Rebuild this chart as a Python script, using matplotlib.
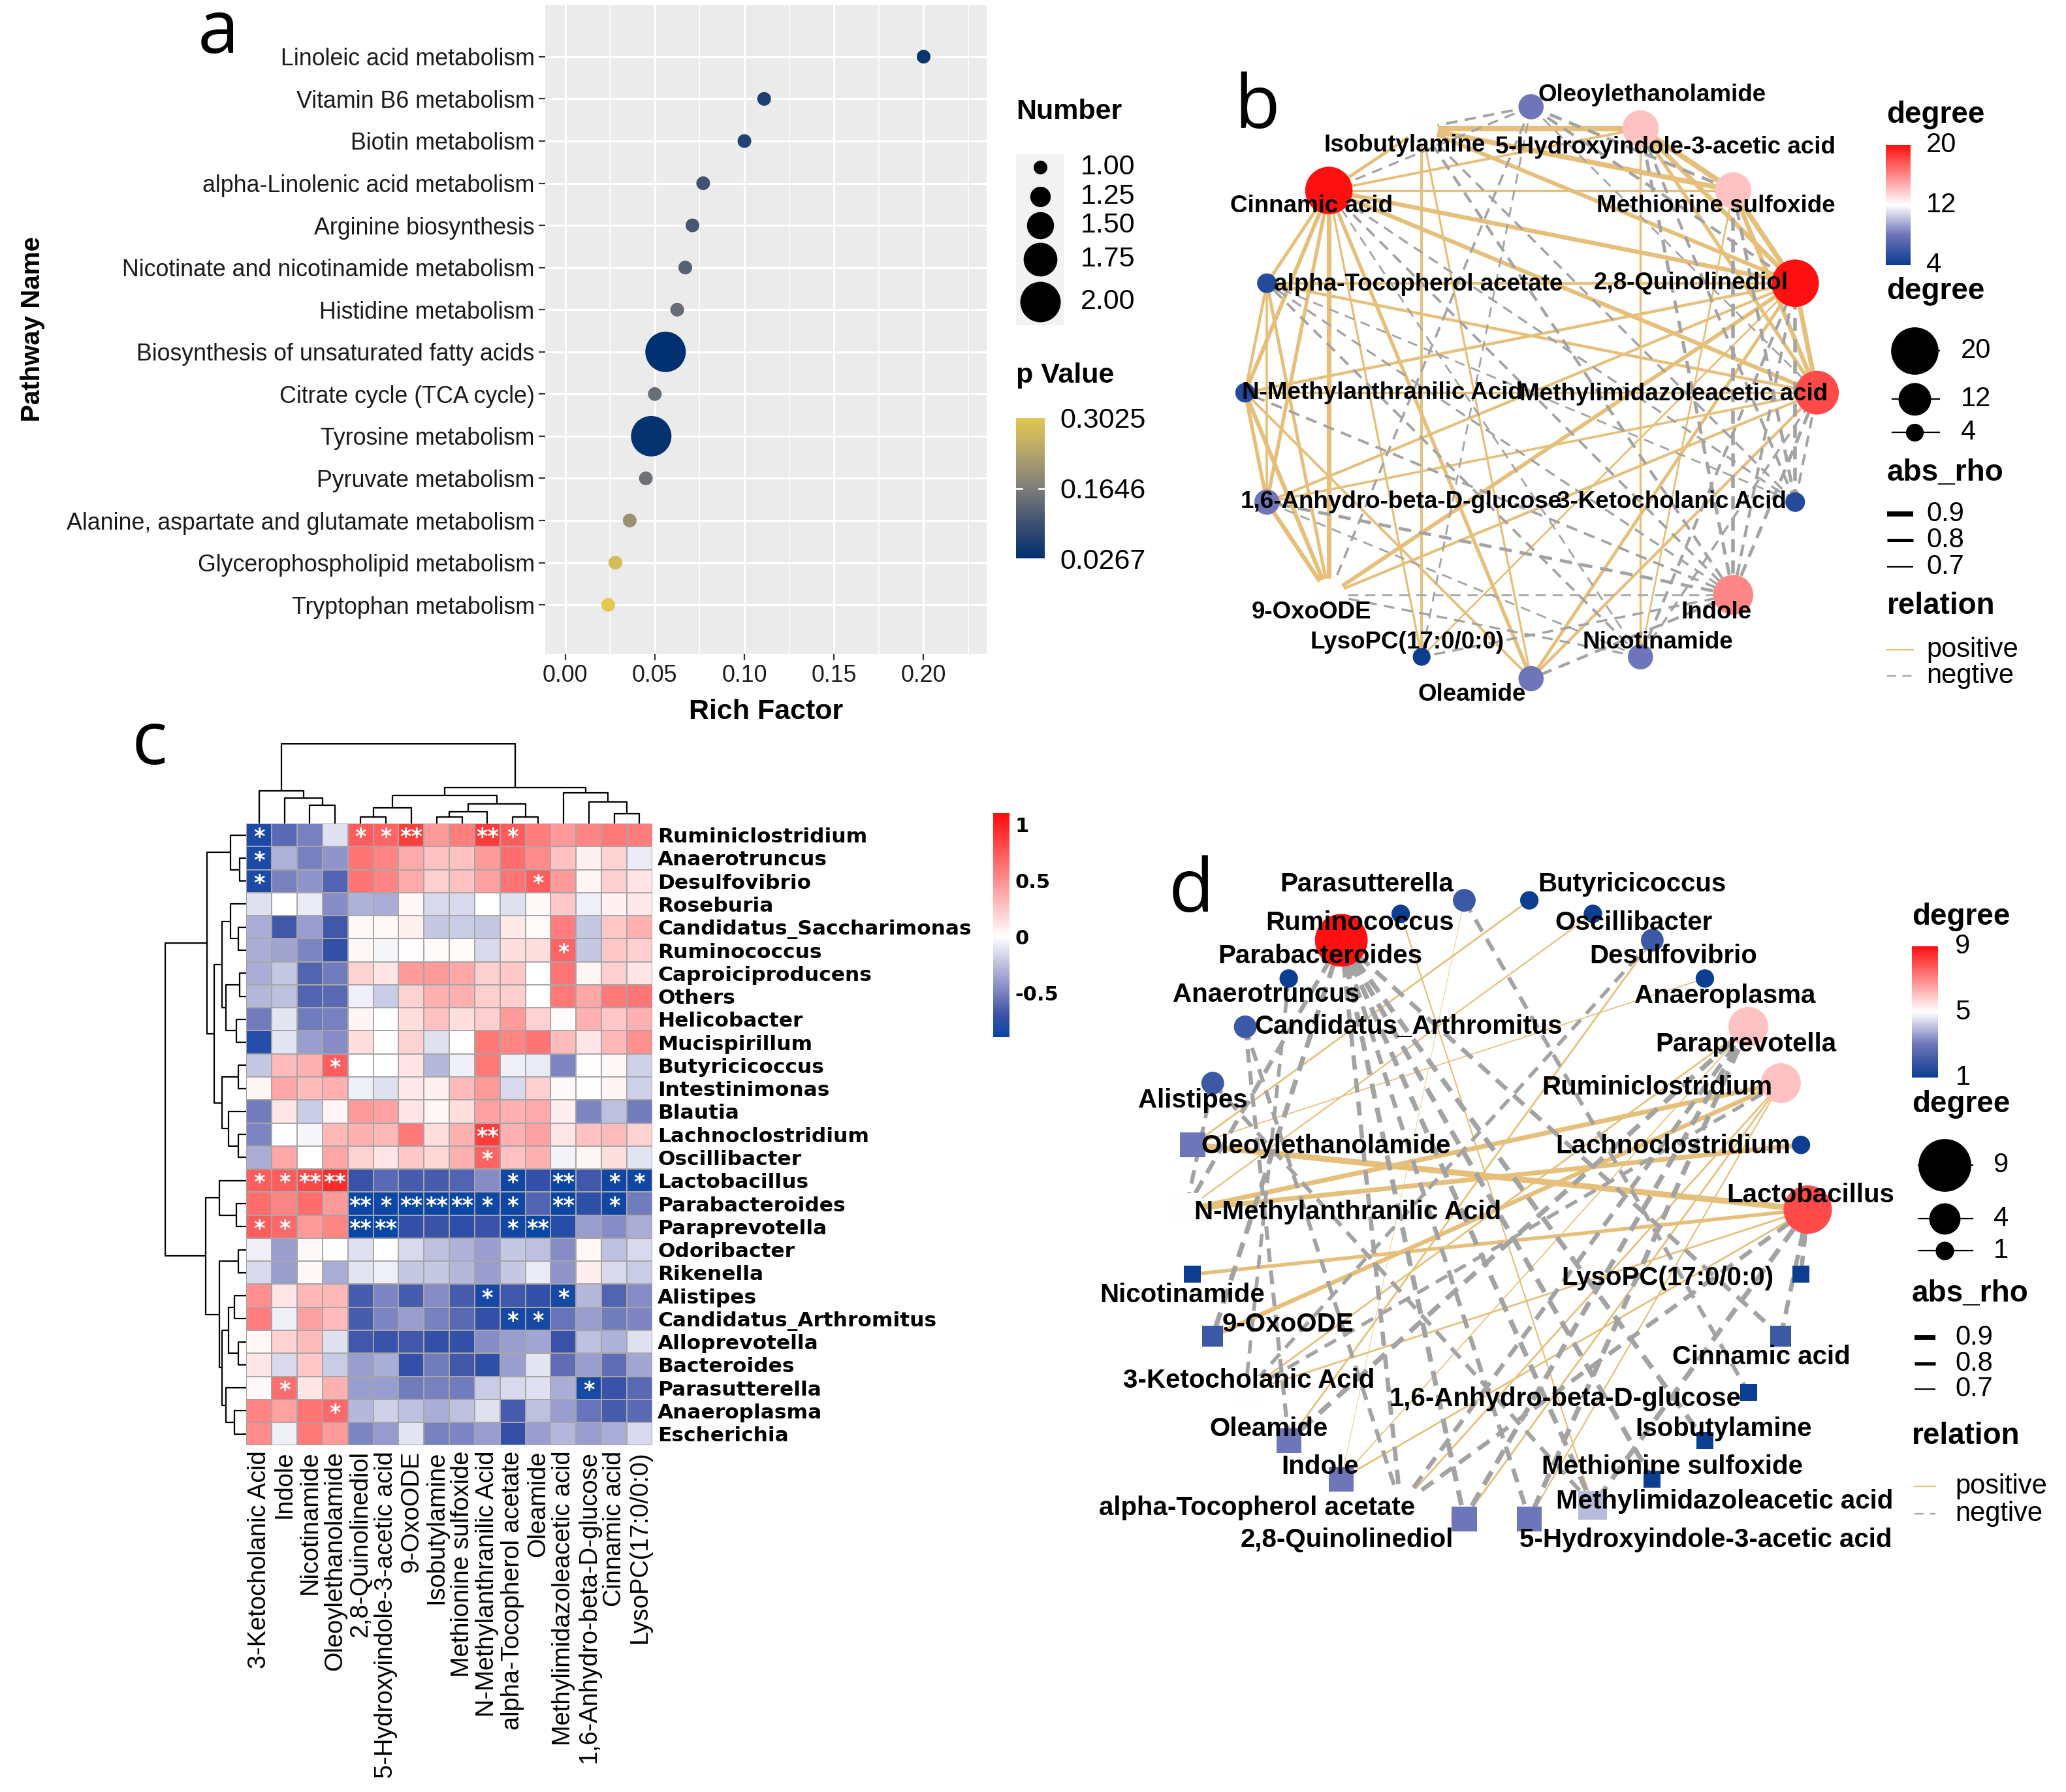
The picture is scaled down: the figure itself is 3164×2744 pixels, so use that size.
import numpy as np
import matplotlib
matplotlib.use("Agg")
import matplotlib.pyplot as plt
from matplotlib import font_manager
from matplotlib.colors import LinearSegmentedColormap, Normalize
from matplotlib.cm import ScalarMappable
from matplotlib.patches import Rectangle

plt.rcParams['lines.scale_dashes'] = False

# ---------------- panel a : enrichment ----------------
pathways = ['Linoleic acid metabolism', 'Vitamin B6 metabolism', 'Biotin metabolism',
            'alpha-Linolenic acid metabolism', 'Arginine biosynthesis',
            'Nicotinate and nicotinamide metabolism', 'Histidine metabolism',
            'Biosynthesis of unsaturated fatty acids', 'Citrate cycle (TCA cycle)',
            'Tyrosine metabolism', 'Pyruvate metabolism',
            'Alanine, aspartate and glutamate metabolism',
            'Glycerophospholipid metabolism', 'Tryptophan metabolism']
rich_factor = [0.200, 0.111, 0.100, 0.077, 0.071, 0.067, 0.0625, 0.056, 0.050,
               0.048, 0.045, 0.036, 0.028, 0.024]
p_value = [0.036, 0.058, 0.065, 0.100, 0.106, 0.122, 0.138, 0.0267, 0.141,
           0.030, 0.148, 0.201, 0.280, 0.3025]
number = [1, 1, 1, 1, 1, 1, 1, 2, 1, 2, 1, 1, 1, 1]
number_breaks = [1.00, 1.25, 1.50, 1.75, 2.00]
p_breaks = [0.0267, 0.1646, 0.3025]

# ---------------- panel b : metabolite network ----------------
b_nodes = ['Oleoylethanolamide', '5-Hydroxyindole-3-acetic acid', 'Methionine sulfoxide',
           '2,8-Quinolinediol', 'Methylimidazoleacetic acid', '3-Ketocholanic Acid',
           'Indole', 'Nicotinamide', 'Oleamide', 'LysoPC(17:0/0:0)', '9-OxoODE',
           '1,6-Anhydro-beta-D-glucose', 'N-Methylanthranilic Acid',
           'alpha-Tocopherol acetate', 'Cinnamic acid', 'Isobutylamine']
b_degree = [8, 14, 14, 20, 18, 5, 16, 8, 8, 4, 12, 8, 5, 5, 20, 12]
# (node, node, rho) - indices into b_nodes
b_edges = [
    (15, 1, 0.92), (15, 2, 0.90), (15, 3, 0.84), (15, 14, 0.80), (1, 2, 0.92),
    (1, 3, 0.88), (2, 3, 0.90), (3, 4, 0.88), (2, 4, 0.86), (1, 4, 0.82),
    (14, 1, 0.76), (14, 2, 0.74), (14, 3, 0.86), (14, 4, 0.85), (14, 13, 0.80),
    (14, 12, 0.84), (14, 11, 0.82), (14, 10, 0.88), (14, 8, 0.82), (14, 9, 0.74),
    (13, 12, 0.78), (13, 11, 0.75), (13, 10, 0.80), (13, 3, 0.76), (13, 4, 0.78),
    (12, 11, 0.82), (12, 10, 0.85), (12, 3, 0.78), (12, 4, 0.74),
    (11, 10, 0.86), (11, 3, 0.77), (11, 4, 0.75), (10, 3, 0.84), (10, 4, 0.77),
    (8, 3, 0.80), (8, 4, 0.78), (8, 12, 0.76), (8, 15, 0.74), (9, 15, 0.76),
    (9, 3, 0.72), (7, 1, 0.74), (7, 2, 0.72),
    (6, 1, -0.80), (6, 2, -0.82), (6, 3, -0.78), (6, 4, -0.80), (6, 14, -0.76),
    (6, 15, -0.78), (6, 13, -0.74), (6, 12, -0.76), (6, 11, -0.80), (6, 10, -0.72),
    (6, 9, -0.75), (6, 8, -0.78), (5, 1, -0.78), (5, 2, -0.80), (5, 3, -0.82),
    (5, 4, -0.76), (5, 14, -0.74), (5, 13, -0.72), (5, 15, -0.75), (0, 14, -0.74),
    (0, 15, -0.76), (0, 2, -0.80), (0, 3, -0.78), (0, 4, -0.72), (0, 10, -0.75),
    (0, 9, -0.72), (7, 14, -0.72), (7, 3, -0.78), (7, 4, -0.75), (7, 10, -0.74),
    (7, 11, -0.72), (7, 13, -0.76),
]

# ---------------- panel c : correlation heatmap ----------------
metabolites = ['3-Ketocholanic Acid', 'Indole', 'Nicotinamide', 'Oleoylethanolamide',
               '2,8-Quinolinediol', '5-Hydroxyindole-3-acetic acid', '9-OxoODE',
               'Isobutylamine', 'Methionine sulfoxide', 'N-Methylanthranilic Acid',
               'alpha-Tocopherol acetate', 'Oleamide', 'Methylimidazoleacetic acid',
               '1,6-Anhydro-beta-D-glucose', 'Cinnamic acid', 'LysoPC(17:0/0:0)']
genera = ['Ruminiclostridium', 'Anaerotruncus', 'Desulfovibrio', 'Roseburia',
          'Candidatus_Saccharimonas', 'Ruminococcus', 'Caproiciproducens', 'Others',
          'Helicobacter', 'Mucispirillum', 'Butyricicoccus', 'Intestinimonas', 'Blautia',
          'Lachnoclostridium', 'Oscillibacter', 'Lactobacillus', 'Parabacteroides',
          'Paraprevotella', 'Odoribacter', 'Rikenella', 'Alistipes',
          'Candidatus_Arthromitus', 'Alloprevotella', 'Bacteroides', 'Parasutterella',
          'Anaeroplasma', 'Escherichia']
rho = np.array([
    [-0.82, -0.60, -0.50, -0.12, 0.72, 0.70, 0.86, 0.45, 0.58, 0.88, 0.72, 0.58, 0.45, 0.55, 0.60, 0.58],
    [-0.82, -0.30, -0.50, -0.42, 0.62, 0.55, 0.38, 0.28, 0.28, 0.45, 0.65, 0.52, 0.28, 0.06, 0.20, -0.08],
    [-0.82, -0.50, -0.42, -0.62, 0.62, 0.55, 0.38, 0.22, 0.27, 0.42, 0.62, 0.72, 0.45, 0.05, 0.22, 0.12],
    [-0.12, 0.00, -0.08, -0.45, -0.30, -0.32, 0.03, -0.15, -0.15, 0.00, -0.12, 0.03, 0.25, -0.06, 0.06, 0.10],
    [-0.32, -0.68, -0.38, -0.68, 0.03, 0.03, 0.07, -0.22, -0.20, -0.22, 0.10, 0.02, 0.58, -0.22, 0.25, 0.35],
    [-0.32, -0.36, -0.48, -0.72, 0.03, -0.03, 0.01, 0.02, 0.02, -0.15, 0.15, 0.15, 0.70, -0.22, 0.25, 0.22],
    [-0.32, -0.22, -0.62, -0.52, 0.20, 0.12, 0.45, 0.45, 0.40, 0.22, 0.25, 0.00, 0.62, 0.05, 0.22, 0.12],
    [-0.28, -0.25, -0.62, -0.60, -0.06, -0.20, 0.20, 0.35, 0.35, 0.22, 0.22, 0.00, 0.60, 0.40, 0.60, 0.62],
    [-0.52, -0.10, -0.52, -0.50, 0.05, 0.00, 0.15, 0.28, 0.15, 0.22, 0.45, 0.20, 0.02, 0.35, 0.25, 0.35],
    [-0.78, -0.10, -0.38, -0.45, 0.15, 0.00, 0.20, -0.12, 0.00, 0.60, 0.55, 0.62, 0.30, 0.12, 0.32, 0.50],
    [-0.22, 0.30, 0.35, 0.72, 0.00, 0.00, 0.12, -0.28, -0.06, 0.60, -0.06, -0.08, -0.48, 0.01, 0.03, -0.18],
    [0.05, 0.40, 0.30, 0.35, -0.06, -0.12, 0.10, 0.06, 0.30, 0.45, -0.15, 0.22, 0.03, 0.01, 0.05, -0.18],
    [-0.52, 0.12, -0.20, 0.05, 0.45, 0.42, 0.12, 0.04, 0.15, 0.42, 0.35, 0.38, 0.08, -0.48, -0.25, -0.52],
    [-0.48, 0.00, -0.03, 0.32, 0.35, 0.32, 0.60, 0.15, 0.35, 0.88, 0.35, 0.42, 0.12, 0.28, 0.30, 0.20],
    [-0.32, 0.40, 0.00, 0.40, 0.20, 0.12, 0.25, 0.18, 0.35, 0.70, 0.28, 0.35, -0.05, 0.05, 0.15, -0.10],
    [0.72, 0.72, 0.82, 0.95, -0.70, -0.60, -0.65, -0.65, -0.62, -0.45, -0.86, -0.72, -0.89, -0.68, -0.86, -0.86],
    [0.65, 0.55, 0.65, 0.45, -0.89, -0.86, -0.89, -0.89, -0.89, -0.86, -0.86, -0.62, -0.89, -0.75, -0.86, -0.52],
    [0.72, 0.68, 0.45, 0.55, -0.89, -0.89, -0.72, -0.70, -0.75, -0.70, -0.86, -0.89, -0.78, -0.38, -0.45, -0.32],
    [-0.06, -0.38, 0.03, 0.00, -0.12, 0.00, -0.15, -0.25, -0.30, -0.38, -0.22, -0.25, -0.45, 0.04, -0.25, -0.15],
    [-0.15, -0.38, 0.03, -0.32, -0.10, -0.06, -0.22, -0.22, -0.28, -0.38, -0.22, -0.08, -0.42, 0.08, -0.15, -0.20],
    [0.50, 0.12, 0.32, 0.32, -0.65, -0.48, -0.65, -0.45, -0.65, -0.84, -0.68, -0.72, -0.84, -0.28, -0.62, -0.45],
    [0.58, -0.06, 0.42, 0.30, -0.65, -0.48, -0.38, -0.50, -0.60, -0.72, -0.84, -0.84, -0.55, -0.38, -0.52, -0.48],
    [0.04, 0.20, 0.30, -0.12, -0.68, -0.70, -0.68, -0.72, -0.72, -0.45, -0.38, -0.35, -0.70, -0.25, -0.30, -0.12],
    [0.12, -0.15, 0.25, -0.20, -0.38, -0.32, -0.72, -0.52, -0.68, -0.75, -0.38, -0.10, -0.58, -0.38, -0.58, -0.35],
    [0.03, 0.65, 0.12, 0.35, -0.38, -0.38, -0.52, -0.50, -0.52, -0.20, -0.15, -0.12, -0.32, -0.84, -0.70, -0.60],
    [0.55, 0.42, 0.62, 0.68, -0.28, -0.18, -0.25, -0.32, -0.25, -0.12, -0.65, -0.25, -0.38, -0.55, -0.65, -0.60],
    [0.52, -0.06, 0.60, 0.45, -0.48, -0.40, -0.10, -0.50, -0.48, -0.38, -0.72, -0.38, -0.28, -0.38, -0.32, -0.15],
])
# significance marks per cell: '.' none, '1' = *, '2' = **
signif = ['1...112..21.....', '1...............', '1..........1....', '................',
          '................', '............1...', '................', '................',
          '................', '................', '...1............', '................',
          '................', '.........2......', '.........1......', '1122......1.2.11',
          '....2122211.2.1.', '11..22....12....', '................', '................',
          '.........1..1...', '..........11....', '................', '................',
          '.1...........1..', '...1............', '................']
# dendrograms: leaves are column/row indices, nodes are (left, right, height)
col_tree = ((0, (1, (2, 3, 0.23), 0.32), 0.41),
            ((((4, 5, 0.08), 6, 0.20), (((7, 8, 0.08), 9, 0.15), (10, 11, 0.08), 0.25), 0.35),
             (12, (13, (14, 15, 0.12), 0.27), 0.39), 0.45), 1.0)
row_tree = (((0, (1, 2, 0.08), 0.20),
             (((3, (4, 5, 0.10), 0.20), ((6, 7, 0.08), (8, 9, 0.12), 0.25), 0.30),
              ((10, 11, 0.10), (12, (13, 14, 0.10), 0.22), 0.30), 0.40), 0.49),
            ((15, (16, 17, 0.12), 0.33),
             ((18, 19, 0.10), (((20, 21, 0.15), (22, 23, 0.10), 0.22),
                               (24, (25, 26, 0.15), 0.25), 0.30), 0.33), 0.50), 1.0)

# ---------------- panel d : genus-metabolite network ----------------
d_nodes = ['Lactobacillus', 'Lachnoclostridium', 'Ruminiclostridium', 'Paraprevotella',
           'Anaeroplasma', 'Desulfovibrio', 'Oscillibacter', 'Butyricicoccus',
           'Parasutterella', 'Ruminococcus', 'Parabacteroides', 'Anaerotruncus',
           'Candidatus_Arthromitus', 'Alistipes', 'Oleoylethanolamide',
           'N-Methylanthranilic Acid', 'Nicotinamide', '9-OxoODE', '3-Ketocholanic Acid',
           'Oleamide', 'Indole', 'alpha-Tocopherol acetate', '2,8-Quinolinediol',
           '5-Hydroxyindole-3-acetic acid', 'Methylimidazoleacetic acid',
           'Methionine sulfoxide', 'Isobutylamine', '1,6-Anhydro-beta-D-glucose',
           'Cinnamic acid', 'LysoPC(17:0/0:0)']

# ---------------- label placement (offsets from node, in layout units) ----------------
b_lab_off = [(92, -9), (19, 14), (-13, 12), (-79, 0), (-109, 1), (-94, 0), (-13, 13),
             (13, -11), (-45, 12), (-11, -11), (-13, 13), (102, 0), (104, 0), (115, 1),
             (-13, 12), (-13, 13)]
d_lab_off = [(2, -11), (-97, 1), (-94, 3), (-2, 13), (15, 13), (16, 12), (31, 7), (78, -12),
             (-74, -12), (-31, 7), (-16, 12), (-17, 12), (124, 0), (-15, 13), (101, 1),
             (123, 2), (-8, 16), (57, -9), (3, -9), (-15, -9), (-16, -9), (-109, 2),
             (-89, 16), (134, 16), (100, -3), (15, -9), (14, -9), (-139, 5), (-15, 16),
             (-101, 3)]

# ---------------- helpers ----------------
W, H = 1568, 1360              # layout grid (half-size reference)
PT = 3164 / W * 72 / 100       # one grid unit in points

fonts = {f.name for f in font_manager.fontManager.ttflist}
if 'Liberation Sans Narrow' in fonts:
    COND, kc = ['Liberation Sans Narrow', 'Liberation Sans'], 1.0
else:
    COND, kc = ['Liberation Sans'], 0.83
SANS = ['Liberation Sans', 'DejaVu Sans']
GOLD, GREY = '#e6c07a', '#a3a3a3'


def rect(x0, y0, x1, y1):
    return [x0 / W, 1 - y1 / H, (x1 - x0) / W, (y1 - y0) / H]


def edge_lw(r):
    return 1.6 + (abs(r) - 0.7) * 20


def edge_style(r):
    lw = edge_lw(r)
    if r > 0:
        return dict(color=GOLD, lw=lw, solid_capstyle='butt')
    return dict(color=GREY, lw=lw, dashes=(8 + 1.6 * lw, 6 + 0.8 * lw), dash_capstyle='butt')


fig = plt.figure(figsize=(31.64, 27.44), dpi=100)
ov = fig.add_axes([0, 0, 1, 1], zorder=5)
ov.set_xlim(0, W)
ov.set_ylim(H, 0)
ov.axis('off')

for lab, x, y in [('a', 150, 40), ('b', 937, 97), ('c', 100, 580), ('d', 887, 692)]:
    ov.text(x, y, lab, fontsize=82, family=['Open Sans', 'DejaVu Sans'], ha='left', va='baseline')

# ================= panel a =================
cmap_a = LinearSegmentedColormap.from_list(
    'pv', ['#00306f', '#3e5070', '#7e7d79', '#b3a46a', '#e3c852'])
norm_a = Normalize(min(p_breaks), max(p_breaks))


def size_a(n):
    return (10.4 + (np.asarray(n) - 1) * 20.3) * PT


ax_a = fig.add_axes(rect(414, 4, 749, 496))
ax_a.set_facecolor('#EBEBEB')
ypos = np.arange(len(pathways))[::-1] + 1
ax_a.scatter(rich_factor, ypos, s=size_a(number) ** 2, c=p_value, cmap=cmap_a,
             norm=norm_a, linewidths=0, zorder=3)
ax_a.set_xlim(-0.011, 0.2353)
ax_a.set_ylim(-0.155, 15.22)
ax_a.set_xticks([0, 0.05, 0.10, 0.15, 0.20])
ax_a.set_xticklabels(['0.00', '0.05', '0.10', '0.15', '0.20'])
ax_a.set_xticks([0.025, 0.075, 0.125, 0.175, 0.225], minor=True)
ax_a.set_yticks(ypos)
ax_a.set_yticklabels(pathways)
ax_a.grid(which='major', color='white', lw=2.2)
ax_a.grid(which='minor', axis='x', color='white', lw=1.1)
ax_a.set_axisbelow(True)
for s in ax_a.spines.values():
    s.set_visible(False)
ax_a.tick_params(which='major', length=7, width=1.6, color='#333333',
                 labelsize=31 * kc, labelcolor='#1a1a1a', pad=5)
ax_a.tick_params(which='minor', length=0)
for t in ax_a.get_xticklabels() + ax_a.get_yticklabels():
    t.set_family(COND)
ax_a.set_xlabel('Rich Factor', fontsize=31, fontweight='bold', family=SANS)
ax_a.xaxis.set_label_coords(0.5, -(540 - 496) / 492)
ax_a.xaxis.label.set_va('center')
ax_a.set_ylabel('Pathway Name', fontsize=29, fontweight='bold', family=SANS)
ax_a.yaxis.set_label_coords((25 - 414) / 335, 0.5)
ax_a.yaxis.label.set_va('center')

# legend a
ov.text(771, 85, 'Number', fontsize=31, fontweight='bold', family=SANS, va='center')
ov.add_patch(Rectangle((771, 117), 37, 130, fc='#F2F2F2', ec='none'))
for n, y in zip(number_breaks, [127, 149, 171, 197, 229]):
    ov.scatter([789.5], [y], s=size_a(n) ** 2, c='black', linewidths=0)
    ov.text(820, y, f'{n:.2f}', fontsize=31, family=SANS, va='center')
ov.text(771, 285, 'p Value', fontsize=31, fontweight='bold', family=SANS, va='center')
cax_a = fig.add_axes(rect(771, 317, 793, 424))
cb = fig.colorbar(ScalarMappable(norm=norm_a, cmap=cmap_a), cax=cax_a)
cb.outline.set_visible(False)
cb.set_ticks(p_breaks)
cb.set_ticklabels([f'{v:.4f}' for v in p_breaks])
cax_a.tick_params(length=0, labelsize=31, pad=17)
for t in cax_a.get_yticklabels():
    t.set_family(SANS)
tr = cax_a.get_yaxis_transform()
cax_a.plot([0, 0.2], [p_breaks[1]] * 2, transform=tr, color='white', lw=2)
cax_a.plot([0.8, 1], [p_breaks[1]] * 2, transform=tr, color='white', lw=2)


# ================= networks =================
def net_axes(x0, y0, x1, y1, cx, cy, R):
    ax = fig.add_axes(rect(x0, y0, x1, y1))
    ax.set_xlim((x0 - cx) / R, (x1 - cx) / R)
    ax.set_ylim((cy - y1) / R, (cy - y0) / R)
    ax.axis('off')
    return ax


def net_legend(x, y_t1, cb_y, cb_ticks, cmap, norm, y_t2, size_keys, size_ys, size_fn,
               dot_x, line_x, size_lab_x, y_t3, rho_ys, rho_x, y_t4, rel_ys, lab_x):
    kw_t = dict(fontsize=33, fontweight='bold', family=SANS, va='center')
    kw_l = dict(fontsize=30, family=SANS, va='center')
    ov.text(x, y_t1, 'degree', **kw_t)
    cax = fig.add_axes(rect(cb_y[0], cb_y[1], cb_y[2], cb_y[3]))
    c = fig.colorbar(ScalarMappable(norm=norm, cmap=cmap), cax=cax)
    c.outline.set_visible(False)
    c.set_ticks([])
    for v in cb_ticks:
        yy = cb_y[3] - (v - norm.vmin) / (norm.vmax - norm.vmin) * (cb_y[3] - cb_y[1])
        ov.text(lab_x, yy, str(v), **kw_l)
    ov.text(x, y_t2, 'degree', **kw_t)
    for v, yy in zip(size_keys, size_ys):
        ov.plot(line_x, [yy, yy], color='black', lw=1.6)
        ov.scatter([dot_x], [yy], s=(size_fn(v) * PT) ** 2, c='black', linewidths=0, zorder=4)
        ov.text(size_lab_x, yy, str(v), **kw_l)
    ov.text(x, y_t3, 'abs_rho', **kw_t)
    for v, yy in zip([0.9, 0.8, 0.7], rho_ys):
        ov.plot(rho_x, [yy, yy], color='black', lw=edge_lw(v), solid_capstyle='butt')
        ov.text(lab_x, yy, str(v), **kw_l)
    ov.text(x, y_t4, 'relation', **kw_t)
    ov.plot(rho_x, [rel_ys[0]] * 2, color=GOLD, lw=1.6)
    ov.plot(rho_x, [rel_ys[1]] * 2, color=GREY, lw=1.6, dashes=(10, 7))
    ov.text(lab_x, rel_ys[0], 'positive', **kw_l)
    ov.text(lab_x, rel_ys[1], 'negtive', **kw_l)


deg_cmap = LinearSegmentedColormap.from_list(
    'deg', [(0, '#0b3d91'), (0.25, '#6d75b9'), (0.5, '#ffffff'), (1, '#ff1010')])

# ---- panel b
Rb = 217
ax_b = net_axes(880, 40, 1445, 545, 1162, 298, Rb)
ang_b = np.pi / 2 - 2 * np.pi * np.arange(len(b_nodes)) / len(b_nodes)
pos_b = np.c_[np.cos(ang_b), np.sin(ang_b)]
for i, j, r in sorted(b_edges, key=lambda e: e[2] < 0):
    ax_b.plot(pos_b[[i, j], 0], pos_b[[i, j], 1], zorder=1, **edge_style(r))
norm_b = Normalize(4, 20)
size_b = lambda d: 13.5 + (d - 4) * 22.5 / 16
ax_b.scatter(pos_b[:, 0], pos_b[:, 1], s=(size_b(np.array(b_degree)) * PT) ** 2,
             c=b_degree, cmap=deg_cmap, norm=norm_b, linewidths=0, zorder=3)
for k, name in enumerate(b_nodes):
    dx, dy = b_lab_off[k]
    ax_b.text(pos_b[k, 0] + dx / Rb, pos_b[k, 1] - dy / Rb, name, fontsize=26.5,
              fontweight='bold', family=SANS, ha='center', va='center', zorder=4)
net_legend(1432, 87, (1431, 110, 1450, 201), [4, 12, 20], deg_cmap, norm_b, 221,
           [20, 12, 4], [266, 303, 328], size_b, 1453, [1436, 1472], 1488, 359,
           [390, 410, 430], [1432, 1452], 460, [493, 513], 1462)

# ---- panel d
Rd = 236
ax_d = net_axes(830, 650, 1450, 1200, 1136, 918, Rd)
ang_d = 2 * np.pi * np.arange(len(d_nodes)) / len(d_nodes)
pos_d = np.c_[np.cos(ang_d), np.sin(ang_d)]
d_idx = {n: k for k, n in enumerate(d_nodes)}
d_edges = []
for gi, g in enumerate(genera):
    for mi, m in enumerate(metabolites):
        if signif[gi][mi] != '.' and g in d_idx and m in d_idx:
            d_edges.append((d_idx[g], d_idx[m], rho[gi, mi]))
d_degree = np.zeros(len(d_nodes))
for i, j, r in d_edges:
    d_degree[i] += 1
    d_degree[j] += 1
for i, j, r in sorted(d_edges, key=lambda e: e[2] < 0):
    ax_d.plot(pos_d[[i, j], 0], pos_d[[i, j], 1], zorder=1, **edge_style(r))
norm_d = Normalize(1, 9)
size_d = lambda d: 14 + (d - 1) * 26 / 8
is_taxon = np.array([n in genera for n in d_nodes])
for mask, mk, f in [(is_taxon, 'o', 1.0), (~is_taxon, 's', 0.92)]:
    ax_d.scatter(pos_d[mask, 0], pos_d[mask, 1], marker=mk,
                 s=(f * size_d(d_degree[mask]) * PT) ** 2, c=d_degree[mask],
                 cmap=deg_cmap, norm=norm_d, linewidths=0, zorder=3)
for k, name in enumerate(d_nodes):
    dx, dy = d_lab_off[k]
    ax_d.text(pos_d[k, 0] + dx / Rd, pos_d[k, 1] - dy / Rd, name, fontsize=29,
              fontweight='bold', family=SANS, ha='center', va='center', zorder=4)
net_legend(1451, 696, (1451, 718, 1471, 818), [1, 5, 9], deg_cmap, norm_d, 838,
           [9, 4, 1], [884, 925, 949], size_d, 1476, [1456, 1497], 1513, 982,
           [1015, 1035, 1054], [1453, 1469], 1090, [1128, 1149], 1484)

# ================= panel c =================
vmin_c, vmax_c = -0.89, 1.1
anchors = [(-0.89, '#0a46a5'), (-0.70, '#3a52a8'), (-0.45, '#888dc6'), (0.0, '#ffffff'),
           (1.1, '#ff0a0a')]
cmap_c = LinearSegmentedColormap.from_list(
    'rc', [((v - vmin_c) / (vmax_c - vmin_c), c) for v, c in anchors])
norm_c = Normalize(vmin_c, vmax_c)

ax_c = fig.add_axes(rect(187, 625, 495, 1097))
nr, nc = rho.shape
ax_c.pcolormesh(np.arange(nc + 1), np.arange(nr + 1), rho, cmap=cmap_c, norm=norm_c,
                edgecolors='#a6a6a6', linewidth=1.1)
ax_c.set_xlim(0, nc)
ax_c.set_ylim(nr, 0)
for i in range(nr):
    for j in range(nc):
        if signif[i][j] != '.':
            ax_c.text(j + 0.5, i + 0.62, '*' * int(signif[i][j]), color='white',
                      fontsize=24, fontweight='bold', ha='center', va='center',
                      family='DejaVu Sans')
for s in ax_c.spines.values():
    s.set_visible(False)
ax_c.yaxis.tick_right()
ax_c.set_yticks(np.arange(nr) + 0.5)
ax_c.set_yticklabels(genera, fontsize=22.5, fontweight='bold', family='DejaVu Sans')
ax_c.set_xticks(np.arange(nc) + 0.5)
ax_c.set_xticklabels(metabolites, rotation=90, fontsize=33 * kc, family=COND,
                     va='top', ha='center')
ax_c.tick_params(length=0, pad=6)


def draw_tree(ax, node, top):
    if isinstance(node, int):
        return node + 0.5, 0.0
    left, right, h = node
    xl, hl = draw_tree(ax, left, top)
    xr, hr = draw_tree(ax, right, top)
    xs, hs = [xl, xl, xr, xr], [hl, h, h, hr]
    if top:
        ax.plot(xs, hs, color='black', lw=1.6, solid_capstyle='butt')
    else:
        ax.plot(hs, xs, color='black', lw=1.6, solid_capstyle='butt')
    return (xl + xr) / 2, h


ax_cd = fig.add_axes(rect(187, 564, 495, 625))
draw_tree(ax_cd, col_tree, True)
ax_cd.set_xlim(0, nc)
ax_cd.set_ylim(0, 1.01)
ax_cd.axis('off')

ax_rd = fig.add_axes(rect(125, 625, 187, 1097))
draw_tree(ax_rd, row_tree, False)
ax_rd.set_xlim(1.01, 0)
ax_rd.set_ylim(nr, 0)
ax_rd.axis('off')

cax_c = fig.add_axes(rect(754, 617, 766, 787))
cbc = fig.colorbar(ScalarMappable(norm=norm_c, cmap=cmap_c), cax=cax_c)
cbc.outline.set_visible(False)
cbc.set_ticks([1, 0.5, 0, -0.5])
cbc.set_ticklabels(['1', '0.5', '0', '-0.5'])
cax_c.tick_params(length=0, labelsize=22, pad=6)
for t in cax_c.get_yticklabels():
    t.set_fontweight('bold')
    t.set_family('DejaVu Sans')

fig.savefig('out.png', dpi=100, facecolor='white')
